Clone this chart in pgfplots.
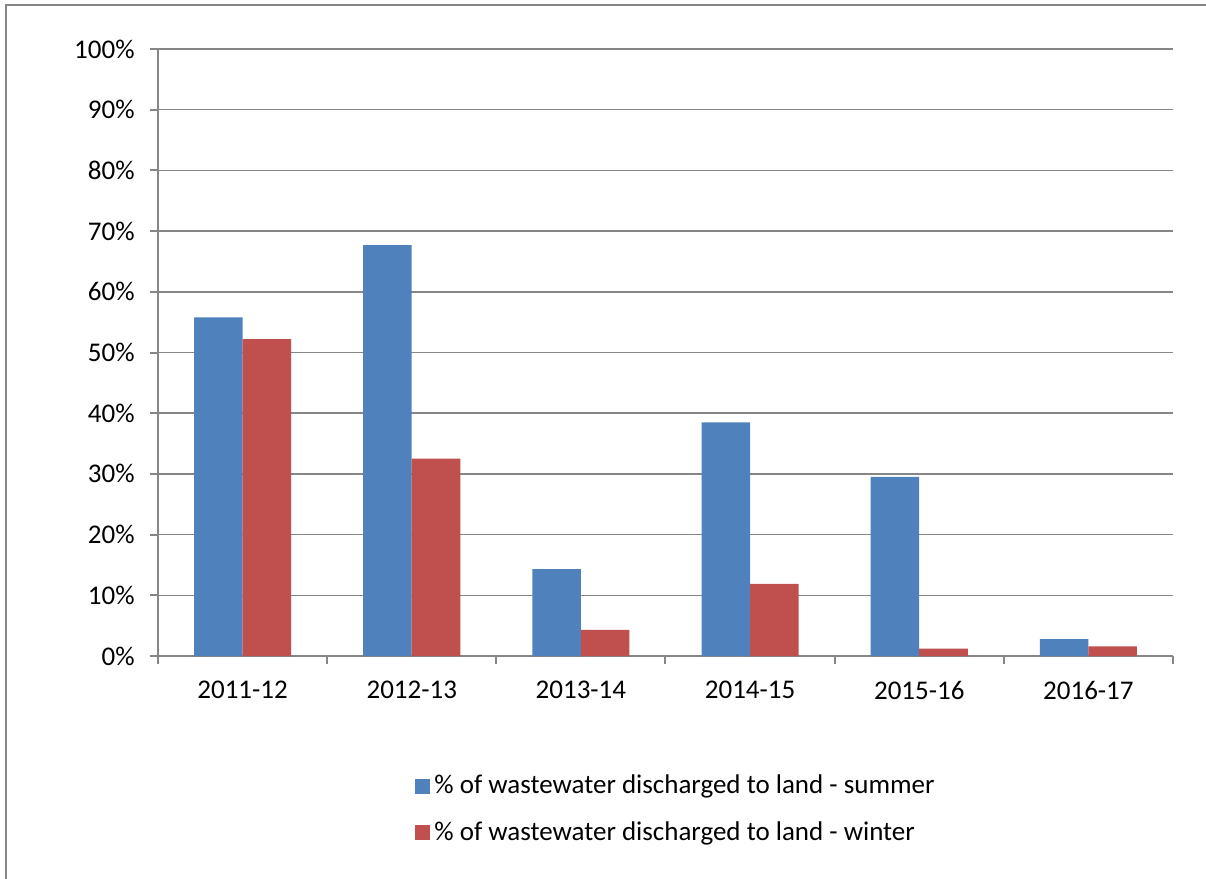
\documentclass[border=0pt]{standalone}
\usepackage{fontspec}
\setmainfont{Carlito}
\usepackage{pgfplots}
\pgfplotsset{compat=1.18}
\definecolor{sblue}{HTML}{4F81BD}
\definecolor{sred}{HTML}{C0504D}
\definecolor{axgray}{HTML}{868686}
\begin{document}
\fontsize{13.5pt}{16pt}\selectfont
\begin{tikzpicture}
\useasboundingbox (-79pt,-111.5pt) rectangle (524pt,328pt);
\draw[axgray, line width=1pt] (-76pt,-111.5pt) -- (-76pt,325.5pt) -- (524pt,325.5pt);
\begin{axis}[
  at={(0pt,0pt)}, anchor=south west,
  width=507.5pt, height=303.5pt, scale only axis,
  xmin=-0.5, xmax=5.5, ymin=0, ymax=100,
  axis x line*=bottom, axis y line*=left,
  axis line style={axgray, line width=1pt},
  ytick={0,10,...,100},
  yticklabel={\pgfmathprintnumber{\tick}\%},
  /pgf/number format/assume math mode=true,
  ymajorgrids, grid style={axgray, line width=0.8pt},
  tick align=outside,
  major tick length=4pt,
  minor tick length=4pt,
  tick style={axgray, line width=1pt},
  xtick={0,...,5},
  xticklabels={2011-12,2012-13,2013-14,2014-15,2015-16,2016-17},
  major x tick style={draw=none},
  minor xtick={-0.5,0.5,...,5.5},
  ticklabel style={font=\fontsize{13.5pt}{16pt}\selectfont, text=black},
  yticklabel style={xshift=-3pt},
  xticklabel style={yshift=-4pt},
  ybar=0pt, bar width=0.287,
  legend style={at={(0.2532,-0.253)}, anchor=west, draw=none, fill=none,
    inner sep=0pt, row sep=8pt, font=\fontsize{13.5pt}{16pt}\selectfont},
  legend cell align=left,
  legend image code/.code={\fill[#1] (0pt,-3.75pt) rectangle (7.5pt,3.75pt);},
]
\addplot[fill=sblue, draw=none] coordinates {(0,55.8) (1,67.7) (2,14.3) (3,38.5) (4,29.5) (5,2.8)};
\addplot[fill=sred, draw=none] coordinates {(0,52.2) (1,32.5) (2,4.3) (3,11.9) (4,1.2) (5,1.6)};
\legend{\% of wastewater discharged to land - summer, \% of wastewater discharged to land - winter}
\end{axis}
\end{tikzpicture}
\end{document}
